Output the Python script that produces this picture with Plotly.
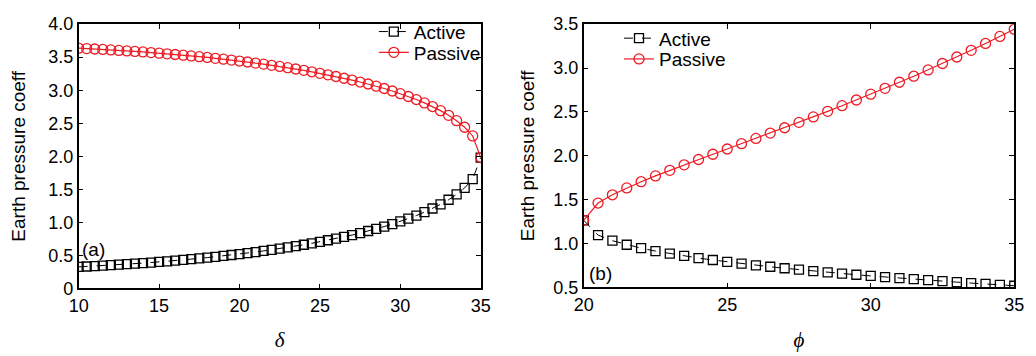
import plotly.graph_objects as go

# Panel (a): coefficient vs delta
delta = [10 + 0.5 * i for i in range(51)]
ka_a = [0.326, 0.332, 0.339, 0.345, 0.352, 0.359, 0.367, 0.375, 0.383, 0.392,
        0.401, 0.411, 0.421, 0.432, 0.443, 0.454, 0.467, 0.479, 0.492, 0.506,
        0.520, 0.535, 0.551, 0.568, 0.585, 0.603, 0.621, 0.641, 0.661, 0.683,
        0.706, 0.729, 0.754, 0.781, 0.808, 0.838, 0.869, 0.901, 0.936, 0.974,
        1.014, 1.057, 1.103, 1.154, 1.210, 1.272, 1.342, 1.423, 1.522, 1.654,
        1.981]
kp_a = [3.636, 3.630, 3.624, 3.617, 3.610, 3.603, 3.595, 3.587, 3.579, 3.570,
        3.561, 3.551, 3.541, 3.530, 3.519, 3.508, 3.496, 3.483, 3.470, 3.456,
        3.442, 3.427, 3.411, 3.395, 3.377, 3.360, 3.341, 3.321, 3.301, 3.279,
        3.256, 3.233, 3.208, 3.181, 3.154, 3.124, 3.094, 3.061, 3.026, 2.988,
        2.948, 2.905, 2.859, 2.808, 2.753, 2.691, 2.620, 2.539, 2.440, 2.308,
        1.981]

# Panel (b): coefficient vs phi
phi = [20 + 0.5 * i for i in range(31)]
ka_b = [1.265, 1.097, 1.033, 0.987, 0.948, 0.915, 0.886, 0.859, 0.835, 0.813,
        0.792, 0.772, 0.753, 0.736, 0.719, 0.703, 0.687, 0.673, 0.659, 0.645,
        0.632, 0.619, 0.607, 0.595, 0.583, 0.572, 0.561, 0.550, 0.540, 0.530,
        0.520]
kp_b = [1.265, 1.462, 1.556, 1.634, 1.705, 1.771, 1.835, 1.897, 1.958, 2.018,
        2.078, 2.138, 2.198, 2.259, 2.320, 2.381, 2.443, 2.507, 2.571, 2.636,
        2.702, 2.769, 2.838, 2.907, 2.979, 3.052, 3.126, 3.202, 3.280, 3.360,
        3.442]

yt_a = [0, 0.5, 1.0, 1.5, 2.0, 2.5, 3.0, 3.5, 4.0]
yl_a = ["0", "0.5", "1.0", "1.5", "2.0", "2.5", "3.0", "3.5", "4.0"]
yt_b = [0.5, 1.0, 1.5, 2.0, 2.5, 3.0, 3.5]
yl_b = ["0.5", "1.0", "1.5", "2.0", "2.5", "3.0", "3.5"]
xt_a = [10, 15, 20, 25, 30, 35]
xt_b = [20, 25, 30, 35]

RED = "#ee1c24"
FONT = "Liberation Sans, Arial, sans-serif"
SERIF = "Liberation Serif, Times New Roman, serif"

fig = go.Figure()

def add_pair(x, ka, kp, xa, ya, leg_a, leg_p):
    fig.add_trace(go.Scatter(
        x=x, y=ka, name="Active", mode="lines+markers", xaxis=xa, yaxis=ya,
        legend=leg_a,
        line=dict(color="black", width=1, dash="dash"),
        marker=dict(symbol="square-open", size=9, color="black",
                    line=dict(width=1.3, color="black"))))
    fig.add_trace(go.Scatter(
        x=x, y=kp, name="Passive", mode="lines+markers", xaxis=xa, yaxis=ya,
        legend=leg_p,
        line=dict(color=RED, width=1.2),
        marker=dict(symbol="circle-open", size=10, color=RED,
                    line=dict(width=1.3, color=RED))))

add_pair(delta, ka_a, kp_a, "x", "y", "legend", "legend2")
add_pair(phi, ka_b, kp_b, "x2", "y2", "legend3", "legend4")

ax_common = dict(showline=True, linecolor="black", linewidth=1.5, mirror="allticks",
                 ticks="inside", ticklen=5, tickwidth=1, tickcolor="black",
                 showgrid=False, zeroline=False,
                 tickfont=dict(family=FONT, size=18, color="black"))

xtitle_font = dict(family=SERIF, size=21, color="black")
ytitle_font = dict(family=FONT, size=19, color="black")
leg_font = dict(family=FONT, size=19, color="black")

def leg(xpx, ypx):
    return dict(x=xpx / 1036, y=1 - ypx / 356, xanchor="left", yanchor="middle",
                bgcolor="rgba(0,0,0,0)", font=leg_font)

fig.update_layout(
    width=1036, height=356,
    margin=dict(l=0, r=0, t=0, b=0),
    paper_bgcolor="white", plot_bgcolor="white",
    xaxis=dict(domain=[70 / 1036, 480 / 1036], range=[10, 35], tickvals=xt_a,
               title=dict(text="<i>δ</i>", standoff=18, font=xtitle_font),
               **ax_common),
    yaxis=dict(domain=[61 / 356, 341 / 356], range=[0, 4], tickvals=yt_a, ticktext=yl_a,
               title=dict(text="Earth pressure coeff", standoff=18, font=ytitle_font),
               **ax_common),
    xaxis2=dict(domain=[585 / 1036, 1024 / 1036], range=[20, 35], tickvals=xt_b,
                anchor="y2",
                title=dict(text="<i>ϕ</i>", standoff=18, font=xtitle_font),
                **ax_common),
    yaxis2=dict(domain=[62 / 356, 341 / 356], range=[0.5, 3.5], tickvals=yt_b, ticktext=yl_b,
                anchor="x2",
                title=dict(text="Earth pressure coeff", standoff=14, font=ytitle_font),
                **ax_common),
    legend=leg(371, 23),
    legend2=leg(371, 45),
    legend3=leg(621, 30),
    legend4=leg(621, 52),
    showlegend=True,
)

fig.add_annotation(x=10.9, y=0.59, xref="x", yref="y", text="(a)", showarrow=False,
                   font=dict(family=FONT, size=19, color="black"))
fig.add_annotation(x=20.6, y=0.66, xref="x2", yref="y2", text="(b)", showarrow=False,
                   font=dict(family=FONT, size=19, color="black"))

fig.write_html("out.html")
